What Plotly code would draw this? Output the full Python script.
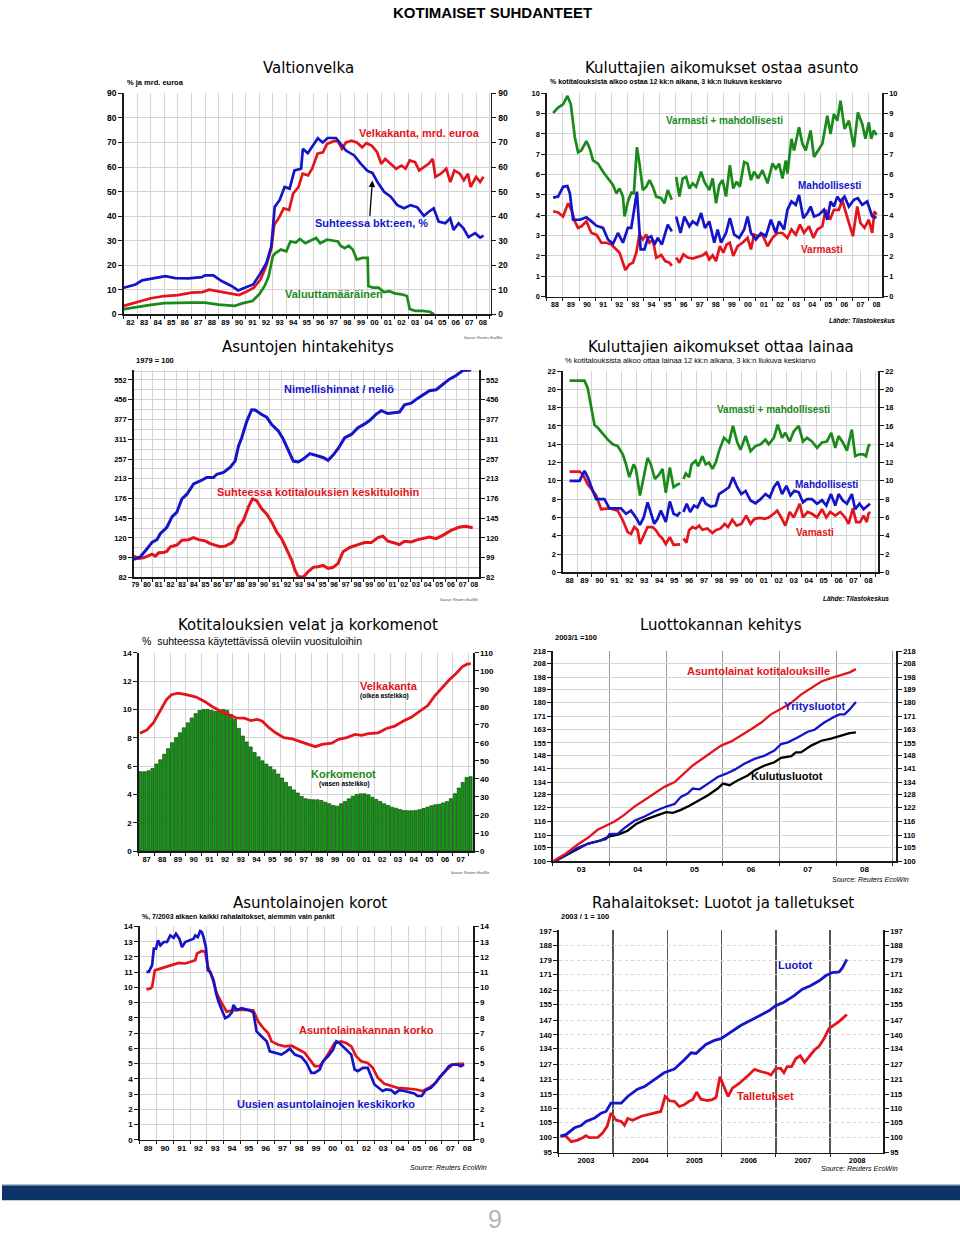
import plotly.graph_objects as go

W, H = 960, 1236

# ======================= DATA =======================
# Panel 1: Valtionvelka
velka_bkt = [(1982.0,10.9),(1982.87,12.2),(1983.36,13.9),(1984.09,14.7),(1985.07,15.6),(1985.80,14.8),(1986.78,14.7),(1987.76,15.2),(1988.0,15.9),(1988.61,15.9),(1989.22,13.6),(1989.95,11.6),(1990.44,9.8),(1990.93,10.9),(1991.55,12.2),(1992.04,16.3),(1992.53,21.0),(1992.89,27.7),(1993.14,43.8),(1993.5,46.5),(1993.87,51.9),(1994.24,51.2),(1994.6,58.6),(1995.09,59.3),(1995.22,67.4),(1995.58,65.6),(1996.07,69.4),(1996.32,71.7),(1996.68,70.0),(1997.05,71.8),(1997.66,71.8),(1998.03,69.4),(1998.4,66.7),(1999.01,64.7),(1999.5,61.3),(1999.99,58.4),(2000.35,57.6),(2000.72,53.9),(2001.21,49.9),(2001.7,47.9),(2002.19,44.5),(2002.68,43.2),(2003.17,44.5),(2003.66,43.6),(2004.15,40.1),(2004.51,41.8),(2004.87,43.2),(2005.24,37.8),(2005.73,37.1),(2006.09,39.1),(2006.34,34.4),(2006.71,37.1),(2007.07,35.1),(2007.44,31.5),(2007.93,33.1),(2008.3,31.3),(2008.55,32.1)]
velka_mrd = [(1982.0,3.5),(1983.0,5.2),(1984.0,6.6),(1985.0,7.5),(1986.0,7.9),(1987.0,8.9),(1987.8,9.1),(1988.3,10.1),(1988.6,9.8),(1989.2,8.9),(1990.0,8.1),(1990.5,7.9),(1991.0,9.1),(1991.6,10.9),(1992.1,14.3),(1992.5,19.6),(1992.9,27.0),(1993.1,36.4),(1993.5,39.8),(1993.8,43.2),(1994.2,42.5),(1994.5,49.2),(1994.9,51.9),(1995.2,57.3),(1995.6,56.6),(1995.9,59.3),(1996.3,65.4),(1996.7,66.0),(1997.0,69.4),(1997.5,70.5),(1997.8,70.5),(1998.1,67.4),(1998.4,70.0),(1998.8,70.7),(1999.2,70.0),(1999.6,68.0),(1999.9,69.7),(2000.3,68.7),(2000.7,66.0),(2001.0,61.3),(2001.3,63.3),(2001.7,61.3),(2002.1,59.3),(2002.5,60.6),(2002.8,59.3),(2003.1,62.7),(2003.5,62.0),(2003.8,58.6),(2004.2,60.0),(2004.5,61.3),(2004.8,63.3),(2005.0,56.0),(2005.4,57.3),(2005.8,59.3),(2006.1,53.9),(2006.4,58.6),(2006.8,57.3),(2007.1,54.6),(2007.4,57.3),(2007.6,51.9),(2008.0,56.0),(2008.3,53.9),(2008.55,56.0)]
velka_valuutta = [(1982.0,2.2),(1983.0,3.2),(1984.0,3.9),(1985.0,4.6),(1986.0,4.8),(1987.0,4.8),(1988.0,4.8),(1989.0,4.0),(1990.2,3.5),(1990.8,4.6),(1991.5,5.5),(1992.0,8.2),(1992.4,11.6),(1992.7,15.6),(1993.0,23.7),(1993.2,25.0),(1993.6,26.4),(1994.0,25.7),(1994.3,29.7),(1994.7,29.3),(1995.0,30.7),(1995.4,29.0),(1995.8,30.1),(1996.2,31.1),(1996.5,29.0),(1997.0,30.4),(1997.4,30.1),(1997.8,29.7),(1998.0,28.0),(1998.3,27.0),(1998.6,28.0),(1998.9,26.4),(1999.2,22.3),(1999.6,23.0),(2000.0,23.0),(2000.05,11.6),(2000.4,10.9),(2000.8,10.9),(2001.2,9.1),(2001.6,9.5),(2002.0,8.6),(2002.5,8.2),(2002.9,7.5),(2003.1,2.2),(2003.5,1.5),(2004.0,1.5),(2004.6,1.1),(2004.9,0.0)]

# Panel 2: Kuluttajien aikomukset ostaa asunto
ostaa_varm_mahd = [(1988.39,9.03),(1988.70,9.3),(1989.01,9.46),(1989.28,9.87),(1989.49,9.46),(1989.74,7.84),(1989.94,7.1),(1990.15,7.2),(1990.46,7.65),(1990.67,7.27),(1990.87,6.7),(1991.18,6.54),(1991.49,6.14),(1991.80,5.81),(1992.11,5.49),(1992.32,5.08),(1992.52,5.32),(1992.73,4.92),(1992.83,3.94),(1993.04,4.68),(1993.25,5.11),(1993.41,5.08),(1993.60,7.35),(1993.76,6.54),(1993.97,5.24),(1994.18,5.4),(1994.38,5.73),(1994.59,5.4),(1994.80,4.92),(1995.11,4.84),(1995.31,4.59),(1995.52,5.24),(1995.77,4.76),(1995.9,None),(1996.04,5.89),(1996.24,4.92),(1996.45,5.81),(1996.66,5.89),(1996.86,5.32),(1997.07,5.57),(1997.28,5.4),(1997.59,6.14),(1997.79,5.65),(1998.10,5.24),(1998.31,5.81),(1998.52,4.59),(1998.72,5.49),(1998.93,5.73),(1999.14,4.92),(1999.38,6.46),(1999.59,5.32),(1999.80,5.65),(2000.00,5.4),(2000.27,6.62),(2000.48,6.54),(2000.69,5.73),(2000.89,6.14),(2001.14,5.81),(2001.41,6.22),(2001.72,5.57),(2002.03,6.54),(2002.24,6.3),(2002.44,6.54),(2002.65,5.81),(2002.86,6.7),(2002.96,6.05),(2003.21,7.76),(2003.37,7.19),(2003.68,8.33),(2003.89,7.52),(2004.10,7.19),(2004.40,8.17),(2004.61,6.87),(2004.92,7.27),(2005.13,7.52),(2005.44,8.9),(2005.64,8.0),(2005.85,8.98),(2006.06,8.65),(2006.26,9.63),(2006.51,8.25),(2006.78,8.65),(2007.09,7.35),(2007.34,9.06),(2007.61,8.49),(2007.81,7.76),(2008.02,8.57),(2008.17,7.76),(2008.33,8.17),(2008.50,7.95)]
ostaa_mahd = [(1988.39,4.87),(1988.70,4.92),(1989.01,5.4),(1989.28,5.44),(1989.43,5.08),(1989.63,3.78),(1990.05,3.78),(1990.46,3.9),(1990.77,3.7),(1991.08,3.49),(1991.49,3.38),(1991.80,2.81),(1992.11,2.6),(1992.42,3.13),(1992.73,2.65),(1993.04,3.38),(1993.25,3.38),(1993.60,5.16),(1993.83,2.32),(1994.07,2.32),(1994.28,2.89),(1994.49,2.97),(1994.69,2.56),(1994.90,2.89),(1995.15,2.56),(1995.52,3.54),(1995.77,3.21),(1995.9,None),(1996.04,3.94),(1996.31,3.13),(1996.55,3.94),(1996.86,3.46),(1997.07,3.7),(1997.34,3.54),(1997.59,4.11),(1997.83,3.38),(1998.10,3.7),(1998.41,2.65),(1998.62,3.3),(1998.83,2.65),(1999.14,3.13),(1999.38,3.86),(1999.65,3.05),(1999.96,2.89),(2000.27,3.3),(2000.48,3.94),(2000.69,3.13),(2001.00,2.81),(2001.31,3.13),(2001.62,2.97),(2001.93,3.78),(2002.24,3.13),(2002.44,3.7),(2002.75,3.3),(2002.96,4.27),(2003.21,4.68),(2003.48,4.51),(2003.68,5.0),(2003.95,3.86),(2004.20,4.11),(2004.40,4.43),(2004.61,3.94),(2004.92,4.03),(2005.23,4.27),(2005.44,3.78),(2005.64,4.68),(2005.85,4.43),(2006.06,4.92),(2006.26,4.68),(2006.51,4.92),(2006.78,4.43),(2007.09,4.76),(2007.34,4.84),(2007.61,4.51),(2007.92,4.68),(2008.23,3.94),(2008.50,3.88)]
ostaa_varm = [(1988.39,4.2),(1988.70,4.14),(1989.01,3.94),(1989.32,4.59),(1989.53,4.27),(1989.74,3.7),(1989.94,3.38),(1990.15,3.46),(1990.46,3.7),(1990.77,3.13),(1991.08,3.05),(1991.39,2.65),(1991.70,2.65),(1992.01,2.56),(1992.32,2.32),(1992.52,2.16),(1992.73,1.67),(1992.88,1.31),(1993.14,1.59),(1993.35,1.67),(1993.56,2.16),(1993.76,3.05),(1993.97,2.81),(1994.18,3.05),(1994.38,2.65),(1994.59,2.81),(1994.80,1.92),(1995.11,2.05),(1995.36,1.75),(1995.62,1.67),(1995.77,1.51),(1995.9,None),(1996.04,1.92),(1996.24,1.67),(1996.49,2.08),(1996.76,1.92),(1997.07,1.87),(1997.38,1.96),(1997.69,2.03),(1997.90,2.16),(1998.10,1.83),(1998.31,2.03),(1998.52,1.75),(1998.76,2.48),(1998.97,2.16),(1999.18,2.56),(1999.38,2.65),(1999.59,2.0),(1999.86,2.48),(2000.17,2.65),(2000.48,2.89),(2000.69,2.32),(2000.89,3.05),(2001.14,2.97),(2001.41,3.05),(2001.72,2.48),(2002.03,2.89),(2002.34,3.13),(2002.65,3.13),(2002.96,2.89),(2003.21,3.3),(2003.48,3.05),(2003.74,3.54),(2003.99,3.13),(2004.30,3.46),(2004.57,2.89),(2004.82,3.3),(2005.13,3.46),(2005.33,4.27),(2005.60,3.78),(2005.85,4.27),(2006.16,4.27),(2006.37,4.76),(2006.57,4.19),(2006.78,3.62),(2007.03,2.97),(2007.30,4.43),(2007.50,3.62),(2007.75,3.38),(2008.02,3.78),(2008.23,3.13),(2008.37,4.19),(2008.50,4.03)]

# Panel 3: Asuntojen hintakehitys (1979 = 100)
hinta_nimellinen = [(1979.36,97.5),(1979.93,100),(1980.50,108),(1980.92,115),(1981.35,118),(1981.63,125),(1982.20,133),(1982.63,147),(1983.05,154),(1983.48,175),(1983.91,183),(1984.48,202),(1985.05,208),(1985.61,215),(1986.18,215),(1986.47,222),(1987.04,226),(1987.60,237),(1988.03,252),(1988.32,291),(1988.60,316),(1989.03,370),(1989.45,414),(1989.74,413),(1990.31,395),(1990.73,385),(1991.16,359),(1991.73,337),(1992.16,311),(1992.59,278),(1993.01,252),(1993.44,250),(1993.86,257),(1994.43,271),(1995.00,265),(1995.56,261),(1995.99,254),(1996.42,267),(1996.90,287),(1997.41,316),(1997.98,326),(1998.55,348),(1999.12,361),(1999.54,373),(2000.11,397),(2000.54,410),(2001.11,399),(2001.68,404),(2002.10,405),(2002.53,434),(2003.10,441),(2003.67,463),(2004.09,478),(2004.66,497),(2005.23,502),(2005.80,530),(2006.37,556),(2006.94,576),(2007.51,604),(2008.22,608)]
hinta_suhteessa = [(1979.36,100.7),(1979.78,98.4),(1980.21,99),(1980.64,101.6),(1980.92,102.6),(1981.21,100.7),(1981.49,103.9),(1981.92,104.2),(1982.20,105.6),(1982.49,110),(1983.05,112),(1983.48,117.4),(1984.05,118),(1984.48,120.4),(1984.90,118),(1985.47,116.6),(1985.90,113.6),(1986.32,111.9),(1986.75,110.2),(1987.18,110.8),(1987.75,114.3),(1988.03,119),(1988.32,133),(1988.74,142),(1989.17,161.6),(1989.51,175),(1989.88,172),(1990.31,159),(1990.73,151.4),(1991.16,140),(1991.59,127),(1992.02,119),(1992.44,108),(1992.87,96.9),(1993.15,88),(1993.44,82.6),(1993.86,82),(1994.29,86.7),(1994.71,90.3),(1995.14,90.8),(1995.56,92),(1995.99,89.4),(1996.42,90.3),(1996.84,93.9),(1997.27,105),(1997.84,109.4),(1998.55,112.5),(1999.12,114.7),(1999.69,114.7),(2000.25,120.4),(2000.68,122),(2001.11,116.2),(2001.68,114.3),(2002.10,112.5),(2002.53,116.2),(2003.10,115.4),(2003.67,118),(2004.23,119.2),(2004.66,121),(2005.23,119.2),(2005.80,123),(2006.51,129),(2007.23,133.3),(2007.79,134.2),(2008.36,132.4)]

# Panel 4: Kuluttajien aikomukset ottaa lainaa
lainaa_varm_mahd = [(1988.50,20.95),(1989.50,20.95),(1989.72,20.1),(1989.94,17.95),(1990.17,16.1),(1990.39,15.8),(1990.72,15.1),(1991.06,14.5),(1991.39,14.0),(1991.72,13.8),(1992.06,12.9),(1992.28,11.8),(1992.50,10.4),(1992.79,11.8),(1992.94,11.3),(1993.21,8.4),(1993.46,10.4),(1993.72,12.5),(1993.94,11.8),(1994.21,10.2),(1994.50,10.7),(1994.72,11.3),(1994.94,8.7),(1995.21,11.45),(1995.46,9.3),(1995.72,9.6),(1995.90,9.7),(1996.0,None),(1996.12,10.2),(1996.28,10.8),(1996.50,10.4),(1996.66,11.8),(1996.94,12.2),(1997.10,11.6),(1997.39,12.7),(1997.61,11.8),(1997.83,12.0),(1998.06,11.3),(1998.28,12.0),(1998.50,13.25),(1998.83,14.7),(1999.17,14.2),(1999.43,16.0),(1999.72,14.2),(1999.94,13.4),(2000.28,14.9),(2000.61,13.25),(2000.94,13.8),(2001.28,14.0),(2001.61,14.5),(2001.83,14.0),(2002.17,14.7),(2002.43,16.15),(2002.72,14.7),(2002.94,15.25),(2003.23,14.3),(2003.50,15.4),(2003.83,16.0),(2004.12,14.3),(2004.39,14.7),(2004.72,14.3),(2005.06,13.6),(2005.39,14.2),(2005.72,14.3),(2006.01,15.25),(2006.28,13.6),(2006.50,14.9),(2006.79,14.2),(2007.06,13.3),(2007.39,15.6),(2007.61,12.7),(2007.90,12.9),(2008.17,12.9),(2008.34,12.7),(2008.50,13.8),(2008.61,14.0)]
lainaa_mahd = [(1988.50,10.0),(1989.17,10.0),(1989.50,11.1),(1989.72,10.4),(1990.06,8.9),(1990.28,8.0),(1990.83,8.0),(1991.17,7.0),(1991.94,7.0),(1992.28,6.4),(1992.61,6.75),(1992.94,6.0),(1993.21,5.2),(1993.46,6.0),(1993.72,7.65),(1993.94,6.6),(1994.17,5.3),(1994.39,5.85),(1994.61,6.75),(1994.94,5.5),(1995.21,7.75),(1995.46,6.4),(1995.72,6.2),(1995.90,6.6),(1996.0,None),(1996.12,6.6),(1996.34,7.5),(1996.57,6.6),(1996.83,7.3),(1997.06,7.1),(1997.39,8.2),(1997.61,7.5),(1997.94,7.2),(1998.28,7.3),(1998.50,8.55),(1998.83,8.9),(1999.17,9.3),(1999.43,10.4),(1999.72,9.3),(1999.99,8.55),(2000.28,8.9),(2000.61,7.85),(2000.94,7.55),(2001.28,8.0),(2001.61,8.55),(2001.90,8.2),(2002.17,9.3),(2002.43,9.9),(2002.72,8.55),(2003.01,9.45),(2003.28,8.4),(2003.54,8.9),(2003.83,8.75),(2004.12,7.65),(2004.39,8.0),(2004.72,8.0),(2005.06,7.5),(2005.39,7.9),(2005.68,7.3),(2005.99,8.55),(2006.28,7.3),(2006.50,8.55),(2006.79,7.85),(2007.06,7.5),(2007.39,8.55),(2007.61,6.9),(2007.90,7.5),(2008.17,6.9),(2008.39,7.2),(2008.61,7.5)]
lainaa_varm = [(1988.50,11.0),(1989.17,11.0),(1989.39,10.7),(1989.72,9.6),(1990.06,8.9),(1990.28,8.4),(1990.61,6.9),(1991.17,7.0),(1991.72,6.75),(1992.06,5.7),(1992.39,4.4),(1992.61,4.2),(1992.83,4.95),(1993.06,4.6),(1993.21,3.1),(1993.50,4.2),(1993.72,4.95),(1994.06,4.95),(1994.28,4.6),(1994.50,4.05),(1994.72,3.7),(1994.94,3.1),(1995.21,3.85),(1995.46,3.0),(1995.72,3.0),(1995.90,3.05),(1996.0,None),(1996.12,3.7),(1996.32,3.25),(1996.50,4.6),(1996.72,4.95),(1996.94,4.8),(1997.17,5.1),(1997.39,4.65),(1997.72,4.8),(1998.06,4.3),(1998.28,4.6),(1998.61,4.8),(1998.88,5.3),(1999.10,4.95),(1999.39,5.75),(1999.68,5.1),(1999.99,5.3),(2000.32,6.2),(2000.61,5.3),(2000.88,5.85),(2001.23,5.95),(2001.54,5.85),(2001.83,6.0),(2002.17,6.4),(2002.39,6.75),(2002.66,6.0),(2002.94,5.1),(2003.23,6.6),(2003.50,6.0),(2003.90,7.5),(2004.12,6.0),(2004.43,6.6),(2004.72,6.4),(2005.06,6.0),(2005.39,6.9),(2005.68,6.0),(2005.94,6.6),(2006.28,6.2),(2006.61,6.6),(2006.94,6.0),(2007.17,5.3),(2007.46,7.0),(2007.68,5.5),(2007.94,5.5),(2008.17,6.2),(2008.39,5.5),(2008.50,6.4),(2008.61,6.6)]

# Panel 5: Kotitalouksien velat ja korkomenot (quarterly 1987Q1 - 2008Q1)
korkomenot_first_year = 1987
korkomenot = [5.6,5.6,5.67,5.83, 6.14,6.44,6.84,7.23, 7.65,8.0,8.35,8.7, 9.05,9.4,9.7,9.92,
              10.0,10.0,9.94,9.87, 9.87,10.0,9.94,9.64, 9.29,8.66,8.12,7.7, 7.35,6.95,6.65,6.37,
              6.14,5.95,5.74,5.44, 5.16,4.85,4.55,4.32, 4.1,3.85,3.69,3.64, 3.62,3.62,3.57,3.45,
              3.34,3.22,3.17,3.34, 3.5,3.69,3.87,3.99, 4.04,4.04,3.97,3.8, 3.64,3.5,3.34,3.22,
              3.1,3.03,2.94,2.87, 2.85,2.85,2.87,2.92, 3.0,3.1,3.2,3.27, 3.3,3.4,3.5,3.7,
              4.05,4.45,4.85,5.2, 5.25]
velkakanta = [(1987.08,65.3),(1987.51,67.1),(1987.93,71.1),(1988.35,77.5),(1988.77,84),(1989.08,86.7),(1989.51,87.6),(1990.03,86.7),(1990.66,85.4),(1991.19,83),(1991.72,79.9),(1992.24,77.5),(1992.77,75.7),(1993.19,73.9),(1993.72,73.7),(1994.14,72.4),(1994.56,73),(1994.87,72),(1995.29,68.4),(1995.72,65.6),(1996.24,62.9),(1996.77,62.3),(1997.19,61),(1997.72,59.6),(1998.24,57.9),(1998.66,59.2),(1999.29,59.8),(1999.72,62),(2000.24,62.9),(2000.77,64.7),(2001.19,64.2),(2001.61,65.1),(2002.24,65.6),(2002.77,68),(2003.29,69.3),(2003.82,72),(2004.35,74.2),(2004.87,77.5),(2005.40,80.7),(2005.82,85.8),(2006.24,90),(2006.77,95),(2007.19,98.3),(2007.61,102.3),(2007.93,103.8),(2008.14,103.8)]

# Panel 6: Luottokannan kehitys (2003/1 = 100)
luotto_asunto = [(2003.01,100),(2003.21,102.5),(2003.44,106.3),(2003.62,109),(2003.79,112.3),(2003.97,114.4),(2004.09,115.8),(2004.26,118.7),(2004.44,122.4),(2004.62,125.4),(2004.79,128.5),(2004.97,131.7),(2005.15,134.1),(2005.32,138.3),(2005.47,142.6),(2005.62,145.8),(2005.79,149.7),(2005.97,153.5),(2006.15,155.9),(2006.32,159.2),(2006.50,163.1),(2006.68,167.2),(2006.85,172.4),(2007.03,176),(2007.21,179.9),(2007.38,185.5),(2007.56,190.1),(2007.74,194.8),(2007.91,197.2),(2008.09,199.6),(2008.24,201.5),(2008.35,203.9)]
luotto_yritys = [(2003.01,99.5),(2003.21,101.9),(2003.44,105),(2003.62,106.6),(2003.79,107.6),(2003.94,108.5),(2004.00,110.5),(2004.15,110.7),(2004.26,113),(2004.44,116.1),(2004.62,118),(2004.79,120.2),(2004.97,122.1),(2005.15,123.6),(2005.26,126.9),(2005.38,128.5),(2005.47,130.9),(2005.59,130.5),(2005.74,133.3),(2005.91,136.6),(2006.06,138.3),(2006.21,140.4),(2006.38,143.5),(2006.56,146.1),(2006.74,147.9),(2006.91,150.7),(2007.03,154.4),(2007.15,155.4),(2007.32,158.2),(2007.50,161.6),(2007.62,162.8),(2007.79,167.2),(2007.97,170.9),(2008.06,172.4),(2008.15,172.4),(2008.24,175.6),(2008.35,180.4)]
luotto_kulutus = [(2003.01,99.6),(2003.21,101.9),(2003.44,104.8),(2003.62,106.7),(2003.85,108),(2004.00,109.6),(2004.15,110.3),(2004.32,111.9),(2004.47,114.7),(2004.62,116.5),(2004.79,118),(2004.91,119.1),(2005.00,119.9),(2005.12,119.6),(2005.26,120.9),(2005.41,122.8),(2005.59,125.4),(2005.74,127.7),(2005.91,130.9),(2006.00,133.3),(2006.12,132.5),(2006.26,134.9),(2006.44,137.4),(2006.56,140),(2006.74,142.6),(2006.91,144.3),(2007.03,146.7),(2007.21,147.6),(2007.29,149.7),(2007.38,149.7),(2007.56,153.5),(2007.74,156.3),(2007.91,157.6),(2008.09,159.2),(2008.24,160.8),(2008.35,161.2)]

# Panel 7: Asuntolainojen korot (%)
korko_uudet = [(1989.40,11.02),(1989.54,11.02),(1989.74,11.46),(1989.84,12.54),(1989.97,12.54),(1990.09,13.09),(1990.23,12.76),(1990.43,12.98),(1990.63,12.98),(1990.82,13.41),(1991.02,13.26),(1991.16,13.52),(1991.36,13.2),(1991.52,12.65),(1991.71,12.98),(1991.95,13.09),(1992.21,13.2),(1992.31,13.41),(1992.46,13.3),(1992.60,13.7),(1992.70,13.63),(1992.80,13.3),(1992.94,12.65),(1993.06,11.13),(1993.20,11.02),(1993.40,10.48),(1993.55,9.61),(1993.69,9.07),(1993.89,8.52),(1994.09,7.98),(1994.28,8.09),(1994.48,8.35),(1994.58,8.85),(1994.78,8.52),(1995.07,8.63),(1995.37,8.52),(1995.57,8.48),(1995.77,8.35),(1995.96,7.11),(1996.26,6.78),(1996.56,6.46),(1996.75,5.8),(1997.05,5.7),(1997.44,5.59),(1997.74,5.8),(1997.94,5.98),(1998.24,5.59),(1998.63,5.44),(1998.93,5.04),(1999.22,4.39),(1999.42,4.39),(1999.72,4.61),(1999.92,5.15),(2000.21,5.48),(2000.51,5.91),(2000.71,6.46),(2000.90,6.35),(2001.10,6.13),(2001.40,5.8),(2001.60,5.59),(2001.80,4.61),(2001.99,4.5),(2002.29,4.72),(2002.58,4.72),(2002.78,4.17),(2002.98,3.63),(2003.22,3.41),(2003.47,3.2),(2003.67,3.3),(2003.97,3.26),(2004.20,3.04),(2004.46,3.26),(2004.76,3.2),(2005.05,3.13),(2005.35,3.04),(2005.55,2.87),(2005.79,2.87),(2006.04,3.26),(2006.34,3.41),(2006.54,3.63),(2006.83,4.07),(2007.13,4.43),(2007.42,4.83),(2007.62,4.93),(2007.92,4.93),(2008.12,4.83),(2008.32,4.93)]
korko_kanta = [(1989.40,9.87),(1989.64,9.93),(1989.74,10.04),(1989.90,11.13),(1990.13,11.2),(1990.53,11.35),(1990.92,11.5),(1991.32,11.61),(1991.71,11.57),(1992.11,11.74),(1992.31,11.78),(1992.41,12.22),(1992.70,12.39),(1992.90,12.33),(1993.06,11.35),(1993.30,10.7),(1993.59,9.61),(1993.89,8.96),(1994.18,8.41),(1994.48,8.48),(1994.88,8.52),(1995.47,8.52),(1995.77,8.48),(1996.06,7.76),(1996.36,7.33),(1996.65,7.0),(1996.85,6.46),(1997.25,6.24),(1997.64,6.13),(1998.04,6.17),(1998.43,5.91),(1998.83,5.7),(1999.13,5.26),(1999.42,4.83),(1999.72,4.83),(2000.01,5.26),(2000.31,5.8),(2000.61,6.35),(2001.00,6.46),(2001.30,6.35),(2001.60,6.13),(2001.89,5.48),(2002.19,5.15),(2002.58,5.04),(2002.88,4.72),(2003.18,4.07),(2003.57,3.67),(2003.97,3.52),(2004.36,3.41),(2004.95,3.35),(2005.45,3.3),(2005.84,3.2),(2006.24,3.41),(2006.63,3.74),(2006.93,4.17),(2007.33,4.65),(2007.62,4.93),(2008.02,4.98),(2008.32,4.98)]

# Panel 8: Rahalaitokset: Luotot ja talletukset (2003/1 = 100)
rl_luotot = [(2003.03,100.3),(2003.13,100.8),(2003.29,103.1),(2003.41,103.9),(2003.50,105.3),(2003.66,106.5),(2003.78,108.2),(2003.87,108.8),(2003.96,111.8),(2004.15,111.8),(2004.27,114.3),(2004.45,117.1),(2004.58,118.1),(2004.76,120.7),(2004.94,123.6),(2005.13,125.1),(2005.22,126.8),(2005.31,128.9),(2005.44,132),(2005.53,131.7),(2005.71,135.7),(2005.87,137.5),(2005.99,138.3),(2006.17,141.1),(2006.36,144.5),(2006.54,146.9),(2006.72,149.3),(2006.88,151.7),(2007.00,154.2),(2007.15,155.9),(2007.34,159.3),(2007.49,162.8),(2007.64,164.6),(2007.80,167.3),(2007.92,170.1),(2008.04,171.9),(2008.17,172.3),(2008.23,174.7),(2008.31,179.6)]
rl_talletukset = [(2003.03,100.3),(2003.13,100.3),(2003.23,98.5),(2003.35,99),(2003.44,99.8),(2003.50,100.5),(2003.56,99.8),(2003.72,99.9),(2003.81,101.4),(2003.89,103.6),(2003.96,108.2),(2004.06,105.7),(2004.15,105.3),(2004.21,104),(2004.27,106.3),(2004.36,105.7),(2004.52,107.1),(2004.67,107.9),(2004.82,108.6),(2004.88,108.8),(2004.96,114.3),(2005.04,112.7),(2005.13,112.5),(2005.22,110.6),(2005.31,111.2),(2005.40,112.5),(2005.47,113.1),(2005.54,116),(2005.62,113.3),(2005.74,112.8),(2005.83,113.1),(2005.90,114),(2005.97,122),(2006.05,118.1),(2006.12,114.3),(2006.20,117.5),(2006.33,119.4),(2006.48,122.3),(2006.61,125),(2006.72,124.1),(2006.85,123.4),(2006.91,122.7),(2007.00,125.4),(2007.09,125.4),(2007.15,123.6),(2007.21,126.1),(2007.29,126.1),(2007.37,129.5),(2007.45,130.7),(2007.53,127.9),(2007.61,130.3),(2007.71,133.1),(2007.80,134.9),(2007.89,138.3),(2007.98,142.9),(2008.07,144.5),(2008.17,146.4),(2008.26,148.5),(2008.31,149.7)]

# Tick labels
ticks_p3 = [82, 99, 120, 145, 176, 213, 257, 311, 377, 456, 552]
ticks_p6 = [100, 105, 110, 116, 122, 128, 134, 141, 148, 155, 163, 171, 180, 189, 198, 208, 218]
ticks_p8 = [95, 100, 105, 110, 115, 121, 127, 134, 140, 147, 155, 162, 171, 179, 188, 197]

# ======================= STYLE =======================
ARIAL = "Liberation Sans, Arial, sans-serif"
TITLEF = "DejaVu Sans, sans-serif"
RED, BLUE, GREEN, BLACK = "#e3141b", "#1414c8", "#1a8a1a", "#000000"
GRID = "#d4d4d4"
AXC = "#1a1a1a"
LW = 2.7

fig = go.Figure()


def dx(a, b):
    return [a / W, b / W]


def dy(top, bottom):
    return [1 - bottom / H, 1 - top / H]


def ax_id(kind, i):
    return kind if i == 1 else f"{kind}{i}"


def setup_panel(i, xd, yd, xr, years, fmt, yr, ytv, ytt=None, ytype="linear",
                yr2=None, ytv2=None, ytt2=None, xfont=8, yfont=8,
                vgrid_color=GRID, vgrid_width=1, hgrid_dash="solid", yminor=None):
    tf_x = dict(family=ARIAL, size=xfont, color=BLACK, weight="bold")
    tf_y = dict(family=ARIAL, size=yfont, color=BLACK, weight="bold")
    xa = dict(domain=dx(*xd), range=xr, anchor=ax_id("y", i), tickmode="array",
              tickvals=[y + 0.5 for y in years], ticktext=[fmt(y) for y in years],
              ticks="", showgrid=False, showline=True, linecolor=AXC, linewidth=1.5,
              zeroline=False, tickfont=tf_x, fixedrange=True,
              minor=dict(tickmode="array", tickvals=list(range(years[0], years[-1] + 2)),
                         showgrid=True, gridcolor=vgrid_color, gridwidth=vgrid_width,
                         ticks="outside", ticklen=3, tickcolor=AXC))
    ya = dict(domain=dy(*yd), range=yr, type=ytype, anchor=ax_id("x", i),
              tickmode="array", tickvals=ytv, ticktext=ytt if ytt else [str(v) for v in ytv],
              ticks="outside", ticklen=4, tickcolor=AXC, showgrid=True, gridcolor=GRID,
              griddash=hgrid_dash, showline=True, linecolor=AXC, linewidth=1.5,
              zeroline=False, tickfont=tf_y, fixedrange=True)
    if yminor:
        ya["minor"] = dict(tickmode="array", tickvals=yminor, showgrid=True,
                           gridcolor=GRID, ticks="")
    r2 = yr2 if yr2 else yr
    tv2 = ytv2 if ytv2 else ytv
    tt2 = ytt2 if ytt2 else (ytt if (ytt and not ytv2) else [str(v) for v in tv2])
    ya2 = dict(range=r2, type=ytype, overlaying=ax_id("y", i), side="right",
               anchor=ax_id("x", i), tickmode="array", tickvals=tv2, ticktext=tt2,
               ticks="outside", ticklen=4, tickcolor=AXC, showgrid=False,
               showline=True, linecolor=AXC, linewidth=1.5, zeroline=False,
               tickfont=tf_y, fixedrange=True)
    fig.update_layout(**{ax_id("xaxis", i): xa, ax_id("yaxis", i): ya,
                         f"yaxis{i + 8}": ya2})
    # invisible anchor trace so the right axis is drawn
    fig.add_trace(go.Scatter(x=[xr[0]], y=[tv2[0]], mode="markers",
                             marker=dict(opacity=0), xaxis=ax_id("x", i),
                             yaxis=f"y{i + 8}", hoverinfo="skip", showlegend=False))


def line(i, pairs, color, width=LW, right=False):
    xs = [p[0] for p in pairs]
    ys = [p[1] for p in pairs]
    fig.add_trace(go.Scatter(x=xs, y=ys, mode="lines", connectgaps=False,
                             line=dict(color=color, width=width),
                             xaxis=ax_id("x", i),
                             yaxis=(f"y{i + 8}" if right else ax_id("y", i)),
                             hoverinfo="skip", showlegend=False))


def txt(x, y, s, size=11, color=BLACK, bold=True, anchor="center", family=ARIAL,
        italic=False):
    fig.add_annotation(x=x / W, y=1 - y / H, xref="paper", yref="paper", text=s,
                       showarrow=False, xanchor=anchor, yanchor="middle", borderpad=0,
                       font=dict(family=family, size=size, color=color,
                                 weight="bold" if bold else "normal",
                                 style="italic" if italic else "normal"))


def two(y):
    return f"{y % 100:02d}"


# ---------------- Panel 1 ----------------
setup_panel(1, (122, 490), (89, 312), [1982.0, 2009.1], list(range(1982, 2009)), two,
            [0, 90], list(range(0, 91, 10)), xfont=7.5, yfont=8.5)
line(1, velka_valuutta, GREEN)
line(1, velka_mrd, RED)
line(1, velka_bkt, BLUE)
fig.add_annotation(x=2000.35, y=54.5, ax=2000.15, ay=39.5, xref="x", yref="y",
                   axref="x", ayref="y", text="", showarrow=True, arrowhead=2,
                   arrowsize=1, arrowwidth=1.3, arrowcolor=BLACK)

# ---------------- Panel 2 ----------------
setup_panel(2, (546, 882), (89, 294), [1988.0, 2008.85], list(range(1988, 2009)), two,
            [0, 10], list(range(0, 11)), xfont=7, yfont=7.5)
line(2, ostaa_varm, RED)
line(2, ostaa_mahd, BLUE)
line(2, ostaa_varm_mahd, GREEN)

# ---------------- Panel 3 ----------------
minor_p3 = [90.1, 109, 132, 160, 194, 234, 283, 342, 415, 502, 600]
setup_panel(3, (132, 478), (368, 577), [1979.36, 2008.9], list(range(1979, 2009)), two,
            [1.9138, 2.7835], ticks_p3, ytype="log", xfont=7, yfont=7.5, yminor=minor_p3)
line(3, hinta_suhteessa, RED, width=3)
line(3, hinta_nimellinen, BLUE, width=3)

# ---------------- Panel 4 ----------------
setup_panel(4, (562, 878), (369, 572), [1988.05, 2009.15], list(range(1988, 2009)), two,
            [0, 22], list(range(0, 23, 2)), xfont=7.5, yfont=7.5)
line(4, lainaa_varm, RED)
line(4, lainaa_mahd, BLUE)
line(4, lainaa_varm_mahd, GREEN)

# ---------------- Panel 5 ----------------
setup_panel(5, (137, 472), (653, 853), [1987.0, 2008.28], list(range(1987, 2008)), two,
            [0, 14], list(range(0, 15, 2)), yr2=[0, 110], ytv2=list(range(0, 111, 10)),
            xfont=7.5, yfont=8)
q_x = [korkomenot_first_year + (k + 0.5) / 4 for k in range(len(korkomenot))]
fig.add_trace(go.Bar(x=q_x, y=korkomenot, width=0.2, xaxis="x5", yaxis="y5",
                     marker=dict(color="#169416", line=dict(color="#0a4a0a", width=0.7)),
                     hoverinfo="skip", showlegend=False))
line(5, velkakanta, RED, width=2.8, right=True)

# ---------------- Panel 6 ----------------
setup_panel(6, (552, 896), (651, 863), [2003.0, 2009.06], list(range(2003, 2009)), two,
            [2.0, 2.3391], ticks_p6, ytype="log", xfont=8, yfont=7.5,
            vgrid_color="#9a9a9a")
line(6, luotto_kulutus, BLACK, width=2.3)
line(6, luotto_yritys, BLUE, width=2.3)
line(6, luotto_asunto, RED, width=2.3)

# ---------------- Panel 7 ----------------
setup_panel(7, (138, 472), (929, 1144), [1989.0, 2008.85], list(range(1989, 2009)), two,
            [0, 14], list(range(0, 15)), xfont=8, yfont=8)
line(7, korko_kanta, RED)
line(7, korko_uudet, BLUE)

# ---------------- Panel 8 ----------------
setup_panel(8, (558, 883), (933, 1157), [2003.0, 2008.98], list(range(2003, 2009)),
            lambda y: str(y), [1.97772, 2.29557], ticks_p8, ytype="log",
            xfont=7.5, yfont=7.5, vgrid_color="#555555", vgrid_width=1.6,
            hgrid_dash="dot")
line(8, rl_talletukset, RED, width=2.8)
line(8, rl_luotot, BLUE, width=2.8)

# ======================= TEXTS =======================
txt(492, 8, "KOTIMAISET SUHDANTEET", size=15)

TS = 15
txt(307, 64, "Valtionvelka", size=TS, bold=False, family=TITLEF)
txt(721, 64, "Kuluttajien aikomukset ostaa asunto", size=TS, bold=False, family=TITLEF)
txt(307, 345, "Asuntojen hintakehitys", size=TS, bold=False, family=TITLEF)
txt(720, 345, "Kuluttajien aikomukset ottaa lainaa", size=TS, bold=False, family=TITLEF)
txt(307, 625, "Kotitalouksien velat ja korkomenot", size=TS, bold=False, family=TITLEF)
txt(720, 625, "Luottokannan kehitys", size=TS, bold=False, family=TITLEF)
txt(309, 905, "Asuntolainojen korot", size=TS, bold=False, family=TITLEF)
txt(723, 905, "Rahalaitokset: Luotot ja talletukset", size=TS, bold=False, family=TITLEF)

txt(124, 78, "% ja mrd. euroa", size=7.5, anchor="left")
txt(548, 78, "% kotitalouksista aikoo ostaa 12 kk:n aikana, 3 kk:n liukuva keskiarvo", size=7, anchor="left")
txt(133, 358, "1979 = 100", size=7.5, anchor="left")
txt(563, 358, "% kotitalouksista aikoo ottaa lainaa 12 kk:n aikana, 3 kk:n liukuva keskiarvo", size=7.5, bold=False, anchor="left")
txt(139, 641, "%  suhteessa käytettävissä oleviin vuosituloihin", size=10.5, bold=False, anchor="left")
txt(553, 638, "2003/1 =100", size=7.5, anchor="left")
txt(139, 919, "%, 7/2003 alkaen kaikki rahalaitokset, aiemmin vain pankit", size=7, anchor="left")
txt(559, 919, "2003 / 1 = 100", size=7.5, anchor="left")

# series labels
LS = 11
txt(418, 129, "Velkakanta, mrd. euroa", size=LS, color=RED)
txt(370, 220, "Suhteessa bkt:een, %", size=LS, color=BLUE)
txt(333, 291, "Valuuttamääräinen", size=LS, color=GREEN)

txt(724, 116, "Varmasti + mahdollisesti", size=10, color=GREEN)
txt(830, 182, "Mahdollisesti", size=10, color=BLUE)
txt(822, 246, "Varmasti", size=10, color=RED)

txt(338, 387, "Nimellishinnat / neliö", size=LS, color=BLUE)
txt(317, 491, "Suhteessa kotitalouksien keskituloihin", size=LS, color=RED)

txt(773, 408, "Vamasti + mahdollisesti", size=10, color=GREEN)
txt(827, 483, "Mahdollisesti", size=10, color=BLUE)
txt(815, 532, "Vamasti", size=10, color=RED)

txt(388, 687, "Velkakanta", size=11, color=RED)
txt(383, 697, "(oikea asteikko)", size=6.5)
txt(342, 775, "Korkomenot", size=11, color=GREEN)
txt(343, 785, "(vasen asteikko)", size=6.5)

txt(758, 671, "Asuntolainat kotitalouksille", size=LS, color=RED)
txt(814, 707, "Yritysluotot", size=LS, color=BLUE)
txt(787, 777, "Kulutusluotot", size=LS, color=BLACK)

txt(365, 1033, "Asuntolainakannan korko", size=LS, color=RED)
txt(325, 1108, "Uusien asuntolainojen keskikorko", size=LS, color=BLUE)

txt(795, 968, "Luotot", size=LS, color=BLUE)
txt(765, 1100, "Talletukset", size=LS, color=RED)

# sources
txt(896, 318, "Lähde: Tilastokeskus", size=6.5, anchor="right", italic=True)
txt(890, 598, "Lähde: Tilastokeskus", size=6.5, anchor="right", italic=True)
txt(910, 882, "Source: Reuters EcoWin", size=7, bold=False, anchor="right", italic=True)
txt(487, 1172, "Source: Reuters EcoWin", size=7, bold=False, anchor="right", italic=True)
txt(899, 1173, "Source: Reuters EcoWin", size=7, bold=False, anchor="right", italic=True)
for (sx, sy) in [(502, 336), (478, 600), (489, 875)]:
    txt(sx, sy, "Source: Reuters EcoWin", size=3.5, bold=False, anchor="right",
        italic=True, color="#444444")

# footer band and page number
fig.add_shape(type="rect", xref="paper", yref="paper", x0=0, x1=1,
              y0=1 - 1205 / H, y1=1 - 1190 / H, fillcolor="#0d3466", line=dict(width=0),
              layer="above")
fig.add_shape(type="line", xref="paper", yref="paper", x0=0, x1=1,
              y0=1 - 1189.5 / H, y1=1 - 1189.5 / H, line=dict(color="#7f9cc0", width=1))
txt(494, 1224, "9", size=25, bold=False, color="#b5b5b5",
    family="Liberation Sans Narrow, Liberation Sans, Arial, sans-serif")

fig.update_layout(width=W, height=H, margin=dict(l=0, r=0, t=0, b=0),
                  paper_bgcolor="white", plot_bgcolor="white", showlegend=False,
                  bargap=0)

fig.write_html("out.html", config={"displayModeBar": False, "staticPlot": True})

# remove the default page margin so the figure sits at the window origin
with open("out.html", "r", encoding="utf-8") as f:
    page = f.read()
page = page.replace("<head>", "<head><style>html,body{margin:0;padding:0;overflow:hidden;}</style>", 1)
with open("out.html", "w", encoding="utf-8") as f:
    f.write(page)
